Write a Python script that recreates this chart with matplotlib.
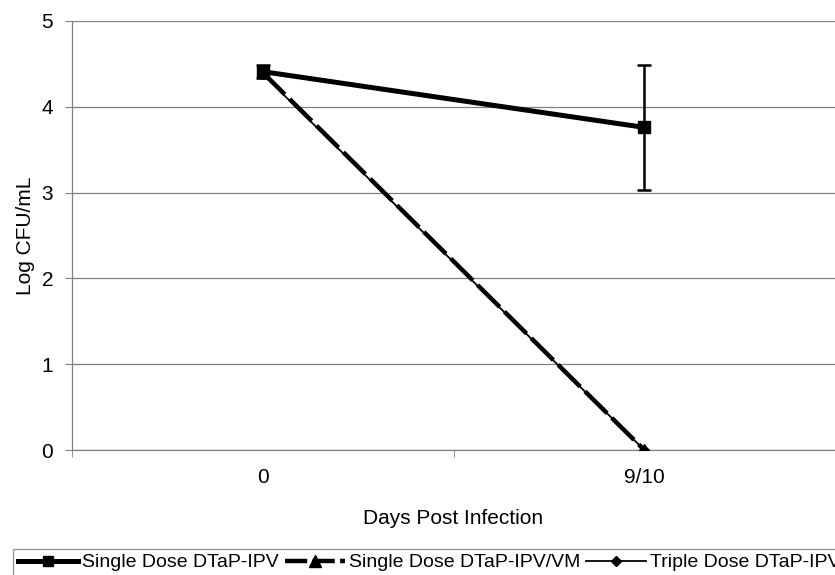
import matplotlib
matplotlib.use("Agg")
from matplotlib import pyplot as plt
from matplotlib.lines import Line2D
import numpy as np

plt.rcParams['font.family'] = ['Liberation Sans', 'DejaVu Sans']

days = ["0", "9/10"]
single_ipv = [4.41, 3.76]
single_ipv_err = [0.08, 0.73]
single_ipv_vm = [4.40, 0.0]
triple_ipv = [4.38, 0.0]
y_ticks = [0, 1, 2, 3, 4, 5]

W, H = 835, 575
fig = plt.figure(figsize=(W / 100, H / 100), dpi=100)
ax = fig.add_axes([72 / W, 1 - 450 / H, (W - 72) / W, (450 - 21) / H])

x = np.arange(len(days))
ax.plot(x, triple_ipv, color="black", lw=1.3, marker="D", ms=5, zorder=3)
ax.plot(x, single_ipv_vm, color="black", lw=3.2, dashes=(7, 1.5), marker="^", ms=8, zorder=4)
ax.errorbar(x, single_ipv, yerr=single_ipv_err, color="black", lw=3.6, marker="s", ms=8,
            elinewidth=1.8, capsize=5, capthick=1.8, zorder=5)

ax.set_xlim(-0.5, -0.5 + (W - 72) / 388)
ax.set_ylim(0, 5)
ax.set_yticks(y_ticks)
ax.set_xticks(x)
ax.set_xticklabels(days)
ax.set_xticks([-0.5, 0.5, 1.5], minor=True)
ax.tick_params(axis="x", which="major", length=0, pad=13, labelsize=15)
ax.tick_params(axis="x", which="minor", length=5, direction="out", color="#808080")
ax.tick_params(axis="y", length=5, direction="out", color="#808080", labelsize=15, pad=8.5)
ax.yaxis.grid(True, color="#808080", lw=0.9)
ax.set_axisbelow(True)
for s in ["top", "right"]:
    ax.spines[s].set_visible(False)
for s in ["left", "bottom"]:
    ax.spines[s].set_color("#808080")
    ax.spines[s].set_linewidth(0.9)

ax.set_xlabel("Days Post Infection", fontsize=15, labelpad=16)
ax.set_ylabel("Log CFU/mL", fontsize=15, labelpad=5)

handles = [
    Line2D([], [], color="black", lw=3.6, marker="s", ms=7),
    Line2D([], [], color="black", lw=3.2, dashes=(5, 1.2), marker="^", ms=8),
    Line2D([], [], color="black", lw=1.3, marker="D", ms=5),
]
labels = ["Single Dose DTaP-IPV", "Single Dose DTaP-IPV/VM", "Triple Dose DTaP-IPV"]
leg = fig.legend(handles, labels,
                 loc="upper left", bbox_to_anchor=(13 / W, 1 - 549 / H), ncol=3,
                 fontsize=14, frameon=True, fancybox=False, borderaxespad=0,
                 handlelength=3.1, handletextpad=0.2, columnspacing=0.3,
                 borderpad=0.25)
leg.get_frame().set_edgecolor("#808080")
leg.get_frame().set_linewidth(1.0)

fig.savefig("out.png", dpi=100)
